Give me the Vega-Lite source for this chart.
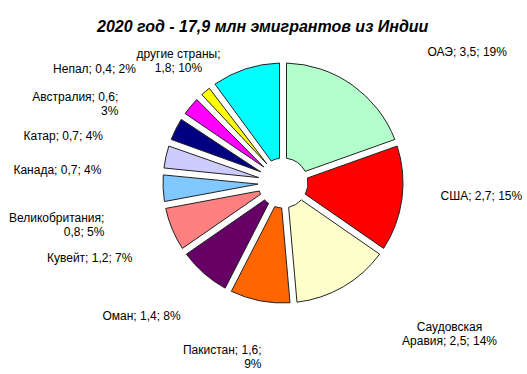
{
  "$schema": "https://vega.github.io/schema/vega-lite/v6.json",
  "width": 488,
  "height": 320,
  "autosize": "none",
  "padding": {"left": 39, "top": 23, "right": 0, "bottom": 31},
  "background": "white",
  "title": {
    "text": "2020 год - 17,9 млн эмигрантов из Индии",
    "anchor": "start",
    "frame": "group",
    "dx": 58,
    "offset": -82,
    "baseline": "alphabetic",
    "font": "Liberation Sans",
    "fontSize": 16,
    "fontWeight": "bold",
    "fontStyle": "italic",
    "color": "#000000"
  },
  "data": {
    "values": [
      {"rank": 1, "name": "ОАЭ", "value": 3.5, "label": "ОАЭ; 3,5; 19%"},
      {"rank": 2, "name": "США", "value": 2.7, "label": "США; 2,7; 15%"},
      {"rank": 3, "name": "Саудовская Аравия", "value": 2.5, "label": "Саудовская\nАравия; 2,5; 14%"},
      {"rank": 4, "name": "Пакистан", "value": 1.6, "label": "Пакистан; 1,6;\n9%"},
      {"rank": 5, "name": "Оман", "value": 1.4, "label": "Оман; 1,4; 8%"},
      {"rank": 6, "name": "Кувейт", "value": 1.2, "label": "Кувейт;  1,2; 7%"},
      {"rank": 7, "name": "Великобритания", "value": 0.8, "label": "Великобритания;\n0,8; 5%"},
      {"rank": 8, "name": "Канада", "value": 0.7, "label": "Канада; 0,7; 4%"},
      {"rank": 9, "name": "Катар", "value": 0.7, "label": "Катар; 0,7; 4%"},
      {"rank": 10, "name": "Австралия", "value": 0.6, "label": "Австралия; 0,6;\n3%"},
      {"rank": 11, "name": "Непал", "value": 0.4, "label": "Непал; 0,4; 2%"},
      {"rank": 12, "name": "другие страны", "value": 1.8, "label": "другие страны;\n1,8; 10%"}
    ]
  },
  "encoding": {
    "theta": {"field": "value", "type": "quantitative", "stack": true},
    "order": {"field": "rank", "type": "quantitative"}
  },
  "layer": [
    {
      "mark": {"type": "arc", "outerRadius": 120, "innerRadius": 25, "padAngle": 0.057, "stroke": "#222222", "strokeWidth": 1},
      "encoding": {
        "color": {
          "field": "name",
          "type": "nominal",
          "scale": {
            "domain": ["ОАЭ", "США", "Саудовская Аравия", "Пакистан", "Оман", "Кувейт", "Великобритания", "Канада", "Катар", "Австралия", "Непал", "другие страны"],
            "range": ["#B3FFCC", "#FF0000", "#FFFFCC", "#FF6600", "#660066", "#FF8080", "#80C8FF", "#CCCCFF", "#000080", "#FF00FF", "#FFFF00", "#00FFFF"]
          },
          "legend": null
        }
      }
    },
    {
      "mark": {"type": "text", "radius": 168, "thetaOffset": -0.065, "align": "right", "baseline": "middle", "font": "Liberation Sans", "fontSize": 12, "lineBreak": "\n", "color": "#000000"},
      "encoding": {
        "text": {"condition": {"test": "indexof(['Пакистан','Оман','Кувейт'], datum.name) >= 0", "field": "label", "type": "nominal"}, "value": ""}
      }
    },
    {
      "mark": {"type": "text", "radius": 182, "thetaOffset": -0.15, "align": "right", "baseline": "middle", "font": "Liberation Sans", "fontSize": 12, "lineBreak": "\n", "color": "#000000"},
      "encoding": {
        "text": {"condition": {"test": "indexof(['Великобритания','Канада'], datum.name) >= 0", "field": "label", "type": "nominal"}, "value": ""}
      }
    },
    {
      "mark": {"type": "text", "radius": 186, "thetaOffset": -0.21, "align": "right", "baseline": "middle", "font": "Liberation Sans", "fontSize": 12, "lineBreak": "\n", "color": "#000000"},
      "encoding": {
        "text": {"condition": {"test": "indexof(['Катар','Австралия','Непал'], datum.name) >= 0", "field": "label", "type": "nominal"}, "value": ""}
      }
    },
    {
      "mark": {"type": "text", "radius": 166, "thetaOffset": -0.365, "align": "center", "baseline": "middle", "font": "Liberation Sans", "fontSize": 12, "lineBreak": "\n", "color": "#000000"},
      "encoding": {
        "text": {"condition": {"test": "datum.name == 'другие страны'", "field": "label", "type": "nominal"}, "value": ""}
      }
    },
    {
      "mark": {"type": "text", "radius": 158, "thetaOffset": -0.05, "align": "left", "baseline": "middle", "font": "Liberation Sans", "fontSize": 12, "lineBreak": "\n", "color": "#000000"},
      "encoding": {
        "text": {"condition": {"test": "datum.name == 'США'", "field": "label", "type": "nominal"}, "value": ""}
      }
    },
    {
      "mark": {"type": "text", "radius": 220, "thetaOffset": -0.332, "align": "center", "baseline": "middle", "font": "Liberation Sans", "fontSize": 12, "lineBreak": "\n", "color": "#000000"},
      "encoding": {
        "text": {"condition": {"test": "datum.name == 'Саудовская Аравия'", "field": "label", "type": "nominal"}, "value": ""}
      }
    },
    {
      "mark": {"type": "text", "radius": 195, "thetaOffset": 0.22, "align": "left", "baseline": "middle", "font": "Liberation Sans", "fontSize": 12, "lineBreak": "\n", "color": "#000000"},
      "encoding": {
        "text": {"condition": {"test": "datum.name == 'ОАЭ'", "field": "label", "type": "nominal"}, "value": ""}
      }
    }
  ],
  "config": {"view": {"stroke": null}}
}
